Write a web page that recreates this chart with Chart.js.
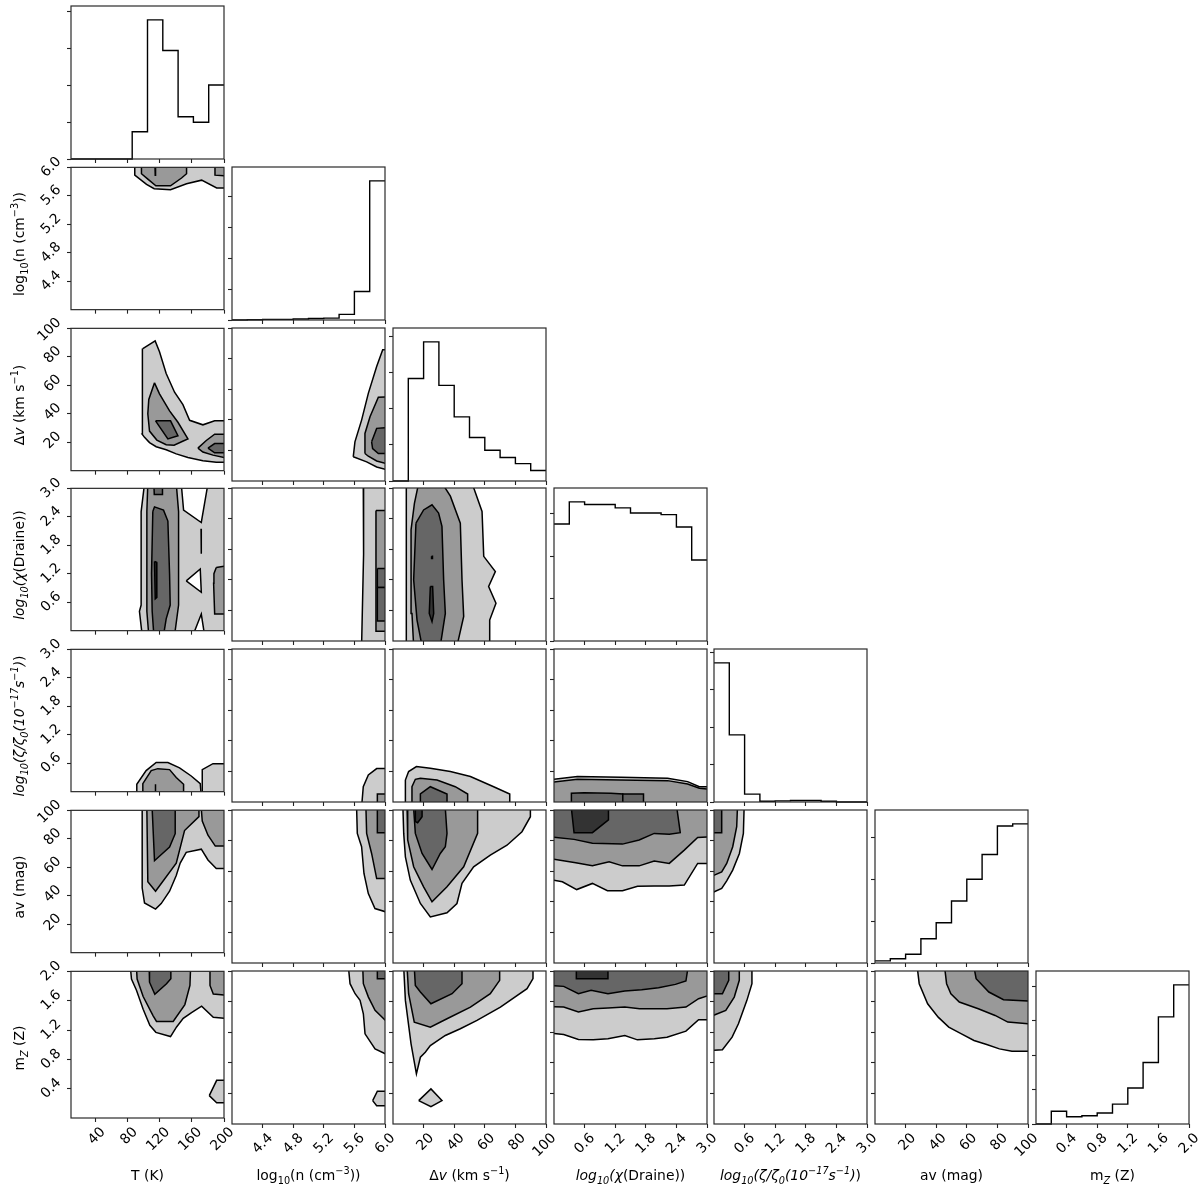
<!DOCTYPE html>
<html><head><meta charset="utf-8">
<script src="https://cdn.jsdelivr.net/npm/chart.js@4.4.1/dist/chart.umd.min.js"></script>
<style>
html,body{margin:0;padding:0;background:#fff;}
#wrap{position:relative;width:1200px;height:1192px;overflow:hidden;font-family:'DejaVu Sans',sans-serif;color:#000;}
canvas{position:absolute;}
.xt{position:absolute;width:300px;text-align:center;font-size:13.9px;line-height:18px;white-space:nowrap;}
.yt{position:absolute;width:300px;height:18px;text-align:center;font-size:13.9px;line-height:18px;white-space:nowrap;transform:rotate(-90deg);transform-origin:50% 50%;}
sub,sup{font-size:70%;line-height:0;}
</style></head>
<body><div id="wrap"></div>
<script>
// ---------- axis ranges, ticks, labels ----------
const rangeT = [10, 200], rangeN = [4, 6], rangeV = [0, 100], rangeX = [0, 3], rangeZ = [0, 3], rangeA = [0, 100], rangeM = [0, 2];
const ticksT = [40, 80, 120, 160, 200];       const labelsT = ['40', '80', '120', '160', '200'];
const ticksN = [4.4, 4.8, 5.2, 5.6, 6.0];     const labelsN = ['4.4', '4.8', '5.2', '5.6', '6.0'];
const ticksV = [20, 40, 60, 80, 100];         const labelsV = ['20', '40', '60', '80', '100'];
const ticksX = [0.6, 1.2, 1.8, 2.4, 3.0];     const labelsX = ['0.6', '1.2', '1.8', '2.4', '3.0'];
const ticksZ = [0.6, 1.2, 1.8, 2.4, 3.0];     const labelsZ = ['0.6', '1.2', '1.8', '2.4', '3.0'];
const ticksA = [20, 40, 60, 80, 100];         const labelsA = ['20', '40', '60', '80', '100'];
const ticksM = [0.4, 0.8, 1.2, 1.6, 2.0];     const labelsM = ['0.4', '0.8', '1.2', '1.6', '2.0'];
const titleT = 'T (K)';
const titleN = 'log<sub>10</sub>(n (cm<sup>\u22123</sup>))';
const titleV = '\u0394<i>v</i> (km s<sup>\u22121</sup>)';
const titleX = '<i>log<sub>10</sub>(\u03c7</i>(Draine))';
const titleZ = '<i>log<sub>10</sub>(\u03b6/\u03b6<sub>0</sub>(10<sup>\u221217</sup>s<sup>\u22121</sup>)</i>)';
const titleA = 'av (mag)';
const titleM = 'm<sub><i>Z</i></sub> (Z)';

// ---------- 1D histograms (bin edges + counts) ----------
const binsT = [10, 29, 48, 67, 86, 105, 124, 143, 162, 181, 200];
const histT = [0, 0, 0, 0, 74, 378, 295, 115, 100, 201];
const binsN = [4.0, 4.2, 4.4, 4.6, 4.8, 5.0, 5.2, 5.4, 5.6, 5.8, 6.0];
const histN = [0, 1, 2, 2, 3, 5, 6, 18, 92, 449];
const binsV = [0, 10, 20, 30, 40, 50, 60, 70, 80, 90, 100];
const histV = [0, 283, 384, 264, 177, 120, 85, 65, 48, 29];
const binsX = [0, 0.3, 0.6, 0.9, 1.2, 1.5, 1.8, 2.1, 2.4, 2.7, 3.0];
const histX = [276, 328, 322, 322, 314, 302, 302, 298, 269, 191];
const binsZ = [0, 0.3, 0.6, 0.9, 1.2, 1.5, 1.8, 2.1, 2.4, 2.7, 3.0];
const histZ = [371, 179, 21, 2, 3, 4, 4, 2, 0, 0];
const binsA = [0, 10, 20, 30, 40, 50, 60, 70, 80, 90, 100];
const histA = [5, 10, 21, 58, 96, 148, 200, 259, 327, 332];
const binsM = [0, 0.2, 0.4, 0.6, 0.8, 1.0, 1.2, 1.4, 1.6, 1.8, 2.0];
const histM = [0, 37, 21, 24, 32, 58, 105, 179, 312, 405];
const countTicksT = [0, 100, 200, 300, 400];
const countTicksN = [0, 100, 200, 300, 400];
const countTicksV = [0, 100, 200, 300, 400];
const countTicksX = [0, 100, 200, 300];
const countTicksZ = [0, 100, 200, 300, 400];
const countTicksA = [0, 100, 200, 300];
const countTicksM = [0, 100, 200, 300, 400];

// ---------- 2D contour regions [x, y] (light / hole / mid / dark / black) ----------
const cN_T = {
  light: [[[89.2,6.05],[89.2,5.89],[103.8,5.76],[113.3,5.70],[133.6,5.686],[153.5,5.77],[172.2,5.82],[190.9,5.71],[201,5.71],[201,6.05]]],
  mid: [[[97.5,6.05],[97.5,5.91],[105.8,5.83],[115.4,5.74],[133.6,5.74],[147.3,5.85],[153.5,5.91],[153.5,6.05]],
        [[188.8,6.05],[188.8,5.89],[201,5.88],[201,6.05]]],
  dark: [[[114.2,6.05],[114.6,5.89],[115.0,6.05]]]
};
const cV_T = {
  light: [[[99.2,85.8],[114.5,91.2],[119.9,83.6],[128.2,68.3],[138.6,55.1],[149,46.4],[157.3,35.4],[173.8,32.2],[188.4,35.0],[201,35.0],[201,5.9],[190.4,5.9],[173.8,7.0],[155.2,9.2],[140.7,11.8],[128.2,14.7],[115.8,16.8],[107.5,19.7],[101.3,23.4],[98.4,25.6],[98.4,45],[98.4,65]]],
  mid: [[[113.7,61.7],[119.9,54.0],[132.4,42.0],[142.8,34.0],[155.2,22.3],[148,20.5],[138,17.9],[128.2,18.2],[116.6,21.5],[107.5,27.8],[105.4,40],[106.6,50]],
        [[167.6,15.8],[178,21.2],[188.4,25.6],[201,25.6],[201,9.2],[186.3,10.9],[173.8,13.1]]],
  dark: [[[115,35.0],[133.6,35.0],[142.8,24.5],[130.3,22.3]],
         [[180.1,15.8],[188.4,19.0],[201,19.0],[201,12.5],[188.4,12.5]]]
};
const cV_N = {
  light: [[[5.585,15.8],[5.607,25.6],[5.694,39.8],[5.782,57.3],[5.891,74.8],[5.97,85.8],[6.05,85.8],[6.05,7.0],[5.891,9.2],[5.76,12.5]]],
  mid: [[[5.738,18],[5.738,31.1],[5.804,42],[5.913,54.7],[6.05,55.1],[6.05,10.9],[5.891,13.1],[5.782,16.2]]],
  dark: [[[5.825,25.6],[5.891,34.4],[6.05,35],[6.05,17.9],[5.913,17.9],[5.838,21.2]]]
};
const cX_T = {
  light: [[[101.3,3.1],[146.9,3.1],[149.8,2.54],[171.8,2.28],[180.1,3.1],[201,3.1],[201,-0.1],[175.9,-0.1],[171.8,0.35],[161.4,-0.1],[98.4,-0.1],[95,0.41],[97.1,0.54],[97.1,2.51]]],
  hole: [[[153.1,1.05],[170.5,1.30],[171.8,0.81]],
         [[171.5,2.15],[172.1,2.15],[172.1,1.62],[171.5,1.62]]],
  mid: [[[105.4,3.1],[140.7,3.1],[143.6,2.51],[143.6,0.54],[138.6,-0.1],[106.6,-0.1],[104.2,0.41],[104.2,2.51]],
        [[190.4,1.33],[201,1.36],[201,0.35],[188.4,0.35],[187.1,1.0],[187.5,1.2]]],
  dark: [[[111.6,2.51],[113.7,2.61],[124.9,2.54],[130.3,2.31],[132.4,1.2],[133.2,0.54],[128.2,0.25],[124.9,-0.1],[112.9,-0.1],[110.8,0.41],[110,1.2]],
         [[112.9,3.1],[113.4,2.87],[123.2,2.87],[123.6,3.1]]],
  black: [[[113.7,1.46],[116.3,1.44],[116.6,0.7],[114.6,0.67]]]
};
const cX_N = {
  light: [[[5.716,3.1],[5.72,1.7],[5.694,-0.1],[6.05,-0.1],[6.05,3.1]]],
  mid: [[[5.882,2.56],[6.05,2.56],[6.05,0.19],[5.882,0.19]]],
  dark: [[[5.9,1.42],[6.05,1.42],[6.05,1.05],[5.9,1.05]],
         [[5.9,1.05],[6.05,1.05],[6.05,0.39],[5.9,0.39]]]
};
const cX_V = {
  light: [[[8.7,3.1],[51.6,3.1],[58.2,2.54],[59.3,1.66],[66.9,1.36],[62.5,1.07],[67.3,0.74],[63.2,0.41],[63.2,-0.1],[8.7,-0.1]]],
  mid: [[[16.8,3.1],[32,3.1],[37.5,2.84],[44,2.31],[45.1,1.2],[46.2,0.48],[41.8,-0.1],[13.5,-0.1],[12.4,0.54],[11.8,2.18],[14,2.7]]],
  dark: [[[15,2.31],[20,2.57],[25.5,2.67],[29.8,2.51],[32,2.25],[33.1,1.2],[34.2,0.54],[30.9,-0.1],[19,-0.1],[15.7,0.41],[13.5,1.2]]],
  black: [[[24.4,1.07],[25.9,1.07],[26.6,0.54],[25.5,0.38],[23.7,0.54]],
          [[25.2,1.66],[25.8,1.66],[25.8,1.62],[25.2,1.62]]]
};
const cZ_T = {
  light: [[[90.9,-0.1],[91.7,0.157],[103.3,0.445],[115.8,0.615],[130.3,0.615],[144.8,0.50],[159.3,0.33],[170.5,0.17],[171.8,-0.1]],
          [[173,-0.1],[173,0.465],[186.3,0.59],[201,0.59],[201,-0.1]]],
  mid: [[[98.4,-0.1],[99.2,0.17],[109.6,0.445],[117.8,0.485],[132.4,0.465],[140.7,0.30],[149.8,0.157],[149.8,-0.1]]],
  dark: [[[114.6,-0.1],[114.9,0.157],[115.3,-0.1]]]
};
const cZ_N = {
  light: [[[5.694,-0.1],[5.716,0.30],[5.782,0.53],[5.891,0.655],[6.05,0.655],[6.05,-0.1]]],
  mid: [[[5.9,-0.1],[5.9,0.157],[6.05,0.157],[6.05,-0.1]]]
};
const cZ_V = {
  light: [[[8.1,-0.1],[8.1,0.43],[10.2,0.596],[15.3,0.694],[24.4,0.66],[37.5,0.596],[50.6,0.50],[65.8,0.30],[76.3,0.157],[76.3,-0.1]]],
  mid: [[[11.8,-0.1],[12.4,0.30],[14.6,0.445],[17.9,0.465],[28.8,0.43],[40.7,0.30],[48.8,0.157],[48.8,-0.1]]],
  dark: [[[17.9,-0.1],[17.9,0.157],[24.4,0.30],[35.3,0.157],[35.3,-0.1]]]
};
const cZ_X = {
  light: [[[-0.1,0.432],[0.459,0.498],[1.31,0.485],[2.227,0.465],[2.62,0.40],[2.85,0.30],[3.1,0.30],[3.1,-0.1],[-0.1,-0.1]]],
  mid: [[[-0.1,0.38],[0.459,0.445],[1.31,0.432],[2.227,0.419],[2.62,0.354],[2.85,0.269],[3.1,0.249],[3.1,-0.1],[-0.1,-0.1]]],
  dark: [[[0.341,-0.1],[0.341,0.17],[0.59,0.183],[1.114,0.17],[1.349,0.157],[1.349,-0.1]],
         [[1.349,-0.1],[1.349,0.157],[1.755,0.157],[1.755,-0.1]]]
};
const cA_T = {
  light: [[[98.4,101],[98.4,45.4],[101.3,34.9],[115,30.6],[122,34.5],[132.4,43.2],[140.7,54.2],[145.6,62.9],[153.1,70.5],[171.8,72.7],[180.1,65.1],[190.4,59.2],[201,59.2],[201,101]]],
  mid: [[[104.2,101],[105.4,49.8],[115,43.2],[140.7,62.9],[151,85.8],[168.9,95.6],[168.9,101]],
        [[171.8,101],[173,92.4],[180.1,82.5],[189.2,74.9],[201,74.9],[201,101]]],
  dark: [[[110.8,101],[113.7,64.6],[132.4,74.2],[139.4,83.6],[139.4,101]]]
};
const cA_N = {
  light: [[[5.629,101],[5.638,84.7],[5.694,76],[5.725,58.5],[5.782,45.4],[5.869,35.6],[6.05,32.8],[6.05,101]]],
  mid: [[[5.751,101],[5.76,84.7],[5.825,71.6],[5.891,55.2],[6.05,55.2],[6.05,101]]],
  dark: [[[5.9,101],[5.9,85.2],[6.05,85.2],[6.05,101]]]
};
const cA_V = {
  light: [[[6.5,101],[7,84.7],[8.1,69.4],[11.3,54.2],[17.9,38.9],[24.4,30.1],[35.3,32.8],[41.8,38.9],[45.1,52],[52.7,62.9],[63.6,70.5],[74.5,77],[84.3,85.8],[89.8,95.6],[89.8,101]]],
  mid: [[[9.2,101],[9.6,80.4],[13.5,62.9],[20,49.8],[25.5,40],[35.3,49.8],[46.2,62.9],[55.3,84.7],[55.3,101]]],
  dark: [[[13.5,101],[14.6,84.7],[19,71.6],[25.5,61.1],[30.9,71.6],[34.2,76],[35.3,84.7],[34.2,101]]],
  black: [[[14.6,101],[14.6,92.4],[16.1,91.7],[19,95.6],[19,101]]]
};
const cA_X = {
  light: [[[-0.1,101],[-0.1,54.6],[0.164,53.1],[0.445,48],[0.753,52],[1.048,47.2],[1.343,47.2],[1.638,50.2],[1.965,50.4],[2.26,50.4],[2.555,50.9],[2.817,65.1],[3.1,65.1],[3.1,101]]],
  mid: [[[-0.1,101],[-0.1,68.3],[0.426,65.5],[0.753,63.5],[1.081,66.2],[1.343,63.5],[1.67,63.5],[1.965,66.6],[2.26,65.1],[2.555,73.8],[2.817,82.1],[3.1,82.5],[3.1,101]]],
  dark: [[[-0.1,101],[-0.1,82.5],[0.393,80.8],[0.753,78.2],[1.343,77.7],[1.67,80.4],[1.965,84.7],[2.26,84.1],[2.476,85.2],[2.41,101]]],
  black: [[[0.341,101],[0.393,85.2],[0.753,85.2],[1.068,93.5],[1.068,101]]]
};
const cA_Z = {
  light: [[[-0.1,101],[0.59,101],[0.576,84.7],[0.498,71.6],[0.367,60.7],[0.249,53.7],[0.151,48.7],[-0.1,45]]],
  mid: [[[-0.1,101],[0.459,101],[0.445,89.1],[0.367,76],[0.249,65.1],[0.151,59.6],[-0.1,55.9]]],
  dark: [[[-0.1,101],[0.151,101],[0.151,85.2],[-0.1,85.2]]]
};
const cM_T = {
  light: [[[83.8,2.05],[85.1,1.895],[91.3,1.743],[99.6,1.482],[107.9,1.264],[115.4,1.168],[133.6,1.111],[141.1,1.242],[149.4,1.36],[159.7,1.438],[172.2,1.525],[186.7,1.373],[201,1.36],[201,2.05]],
          [[181.7,0.305],[190.9,0.514],[201,0.514],[201,0.209],[190.9,0.209]]],
  mid: [[[91.3,2.05],[92.1,1.895],[99.6,1.656],[112,1.394],[116.2,1.316],[136.9,1.316],[151.4,1.547],[157.7,1.808],[158.5,2.05]],
        [[182.6,2.05],[182.6,1.808],[186.7,1.691],[201,1.678],[201,2.05]]],
  dark: [[[107.1,2.05],[107.5,1.852],[114.1,1.686],[128.6,1.83],[134,1.9],[134,2.05]]]
};
const cM_N = {
  light: [[[5.522,2.05],[5.543,1.834],[5.609,1.703],[5.674,1.616],[5.717,1.441],[5.739,1.179],[5.87,0.982],[6.05,0.895],[6.05,2.05]],
          [[5.839,0.306],[5.9,0.428],[6.05,0.428],[6.05,0.24],[5.891,0.24]]],
  mid: [[[5.709,2.05],[5.717,1.834],[5.783,1.659],[5.87,1.485],[6.05,1.31],[6.05,2.05]]],
  dark: [[[5.9,2.05],[5.9,1.9],[6.05,1.9],[6.05,2.05]]]
};
const cM_V = {
  light: [[[7,2.05],[8.1,1.616],[11.8,1.048],[15.3,0.655],[17.9,0.873],[21.1,0.939],[24.4,1.026],[34.2,1.157],[44,1.245],[54.9,1.354],[70.2,1.528],[87.6,1.769],[91.5,1.9],[91.5,2.05]],
          [[16.8,0.306],[24.8,0.459],[32,0.306],[24.8,0.227]]],
  mid: [[[9.2,2.05],[10.2,1.703],[13.9,1.332],[24.4,1.266],[35.3,1.376],[50.6,1.528],[63.6,1.703],[69.7,1.878],[69.7,2.05]]],
  dark: [[[13.9,2.05],[14.6,1.812],[17.9,1.725],[24.8,1.572],[38.6,1.703],[45.1,1.834],[45.1,2.05]]]
};
const cM_X = {
  light: [[[-0.1,2.05],[-0.1,1.188],[0.19,1.17],[0.479,1.105],[0.769,1.1],[1.058,1.113],[1.388,1.157],[1.636,1.1],[1.967,1.113],[2.215,1.135],[2.587,1.214],[2.835,1.362],[3.1,1.362],[3.1,2.05]]],
  mid: [[[-0.1,2.05],[-0.1,1.537],[0.19,1.528],[0.479,1.463],[0.769,1.507],[1.058,1.515],[1.388,1.528],[1.678,1.507],[1.967,1.507],[2.215,1.507],[2.587,1.528],[2.835,1.638],[3.1,1.694],[3.1,2.05]]],
  dark: [[[-0.1,2.05],[-0.1,1.812],[0.19,1.799],[0.479,1.703],[0.727,1.747],[1.058,1.703],[1.388,1.738],[1.719,1.755],[2.05,1.782],[2.38,1.825],[2.587,1.869],[2.628,2.05]]],
  black: [[[0.438,2.05],[0.438,1.9],[1.058,1.9],[1.058,2.05]]]
};
const cM_Z = {
  light: [[[-0.1,2.05],[0.744,2.05],[0.744,1.834],[0.645,1.616],[0.479,1.31],[0.355,1.135],[0.165,0.97],[-0.1,0.961]]],
  mid: [[[-0.1,2.05],[0.496,2.05],[0.496,1.878],[0.397,1.659],[0.231,1.485],[-0.1,1.397]]],
  dark: [[[-0.1,2.05],[0.289,2.05],[0.289,1.878],[0.165,1.703],[-0.1,1.703]]]
};
const cM_A = {
  light: [[[27.6,2.05],[28.9,1.834],[34.4,1.572],[41.3,1.397],[48.2,1.266],[56.5,1.179],[64.7,1.092],[73,1.039],[81.3,0.982],[89.5,0.952],[101,0.952],[101,2.05]]],
  mid: [[[45.5,2.05],[46.8,1.834],[49.6,1.703],[55.1,1.594],[67.5,1.507],[78.5,1.419],[86.8,1.332],[101,1.31],[101,2.05]]],
  dark: [[[64.7,2.05],[66.1,1.9],[74.4,1.725],[84,1.624],[101,1.607],[101,2.05]]]
};

// ---------- tables built from the arrays above ----------
const axes = [
  {range: rangeT, ticks: ticksT, labels: labelsT, bins: binsT, hist: histT, counts: countTicksT, title: titleT},
  {range: rangeN, ticks: ticksN, labels: labelsN, bins: binsN, hist: histN, counts: countTicksN, title: titleN},
  {range: rangeV, ticks: ticksV, labels: labelsV, bins: binsV, hist: histV, counts: countTicksV, title: titleV},
  {range: rangeX, ticks: ticksX, labels: labelsX, bins: binsX, hist: histX, counts: countTicksX, title: titleX},
  {range: rangeZ, ticks: ticksZ, labels: labelsZ, bins: binsZ, hist: histZ, counts: countTicksZ, title: titleZ},
  {range: rangeA, ticks: ticksA, labels: labelsA, bins: binsA, hist: histA, counts: countTicksA, title: titleA},
  {range: rangeM, ticks: ticksM, labels: labelsM, bins: binsM, hist: histM, counts: countTicksM, title: titleM}
];
const contourPanels = [
  [1,0,cN_T],
  [2,0,cV_T],[2,1,cV_N],
  [3,0,cX_T],[3,1,cX_N],[3,2,cX_V],
  [4,0,cZ_T],[4,1,cZ_N],[4,2,cZ_V],[4,3,cZ_X],
  [5,0,cA_T],[5,1,cA_N],[5,2,cA_V],[5,3,cA_X],[5,4,cA_Z],
  [6,0,cM_T],[6,1,cM_N],[6,2,cM_V],[6,3,cM_X],[6,4,cM_Z],[6,5,cM_A]
];

// ---------- layout & style ----------
const N = 7, PW = 153, PH = 153;
const colLeft = j => Math.round(71.3 + j * 160.75);
const rowTop = i => Math.round(6 + i * 160.75);
const FONT = {family: "'DejaVu Sans'", size: 13.9};
const LEVELS = [['light', '#cccccc'], ['hole', '#ffffff'], ['mid', '#999999'], ['dark', '#666666'], ['black', '#333333']];
const wrap = document.getElementById('wrap');

const framePlugin = {
  id: 'frame',
  afterDatasetsDraw(chart) {
    const {ctx, chartArea: a} = chart;
    ctx.save();
    ctx.strokeStyle = '#2a2a2a';
    ctx.lineWidth = 1.2;
    ctx.strokeRect(a.left, a.top, a.right - a.left, a.bottom - a.top);
    ctx.restore();
  }
};

function axisCfg(kind, range, ticks, labels, showLabels, size) {
  return {
    type: 'linear', min: range[0], max: range[1],
    afterBuildTicks: s => { s.ticks = ticks.map(v => ({value: v})); },
    afterFit: s => { if (kind === 'x') s.height = size; else s.width = size; },
    ticks: {
      display: showLabels, autoSkip: false, minRotation: 45, maxRotation: 45,
      callback: (v, i) => labels[i], color: '#000', font: FONT,
      padding: kind === 'x' ? 2 : 8, labelOffset: kind === 'x' ? 8 : -8
    },
    grid: {display: true, drawOnChartArea: false, drawTicks: true, tickLength: 4, tickWidth: 1.1, tickColor: '#222', color: '#222'},
    border: {display: false}
  };
}

function makePanel(i, j, datasets, yAxis) {
  const showX = (i === N - 1), showY = (j === 0 && i > 0);
  const padL = showY ? 70 : 12, padR = 26, padT = 10, padB = showX ? 64 : 12;
  const W = PW + padL + padR, H = PH + padT + padB;
  const cv = document.createElement('canvas');
  cv.width = W; cv.height = H;
  cv.style.width = W + 'px'; cv.style.height = H + 'px';
  wrap.appendChild(cv);
  const xa = axes[j];
  const chart = new Chart(cv, {
    type: 'line',
    data: {datasets},
    options: {
      responsive: false, animation: false, devicePixelRatio: 1,
      layout: {padding: {left: 0, right: padR, top: padT, bottom: 0}},
      plugins: {legend: {display: false}, tooltip: {enabled: false}},
      elements: {point: {radius: 0}, line: {tension: 0}},
      scales: {
        x: axisCfg('x', xa.range, xa.ticks, xa.labels, showX, padB),
        y: axisCfg('y', yAxis.range, yAxis.ticks, yAxis.labels, showY, padL)
      }
    },
    plugins: [framePlugin]
  });
  let a = chart.chartArea;
  const dw = PW - (a.right - a.left), dh = PH - (a.bottom - a.top);
  if (Math.abs(dw) > 0.5 || Math.abs(dh) > 0.5) {
    chart.resize(W + dw, H + dh);
    a = chart.chartArea;
  }
  cv.style.left = (colLeft(j) - a.left) + 'px';
  cv.style.top = (rowTop(i) - a.top) + 'px';
}

// diagonal histograms
for (let k = 0; k < N; k++) {
  const ax = axes[k];
  const pts = ax.hist.map((h, b) => ({x: ax.bins[b], y: h}));
  pts.push({x: ax.bins[ax.bins.length - 1], y: ax.hist[ax.hist.length - 1]});
  const ymax = 1.1 * Math.max(...ax.hist);
  const yAxis = {range: [0, ymax], ticks: ax.counts, labels: ax.counts.map(String)};
  makePanel(k, k, [{data: pts, stepped: 'before', borderColor: '#000', borderWidth: 1.4, pointRadius: 0, fill: false, clip: 2}], yAxis);
}

// off-diagonal contour panels
for (const [i, j, c] of contourPanels) {
  const ds = [];
  for (const [key, col] of LEVELS) {
    for (const poly of (c[key] || [])) {
      const pts = poly.concat([poly[0]]).map(([x, y]) => ({x, y}));
      ds.push({data: pts, fill: 'shape', backgroundColor: col, borderColor: '#000', borderWidth: 1.5, pointRadius: 0, tension: 0, clip: 0});
    }
  }
  ds.reverse(); // first dataset is drawn last in Chart.js
  const ya = axes[i];
  makePanel(i, j, ds, {range: ya.range, ticks: ya.ticks, labels: ya.labels});
}

// axis titles
for (let j = 0; j < N; j++) {
  const d = document.createElement('div');
  d.className = 'xt';
  d.innerHTML = axes[j].title;
  d.style.left = (colLeft(j) + PW / 2 - 150) + 'px';
  d.style.top = '1166px';
  wrap.appendChild(d);
}
for (let i = 1; i < N; i++) {
  const d = document.createElement('div');
  d.className = 'yt';
  d.innerHTML = axes[i].title;
  d.style.left = (19 - 150) + 'px';
  d.style.top = (rowTop(i) + PH / 2 - 9) + 'px';
  wrap.appendChild(d);
}
</script>
</body></html>
